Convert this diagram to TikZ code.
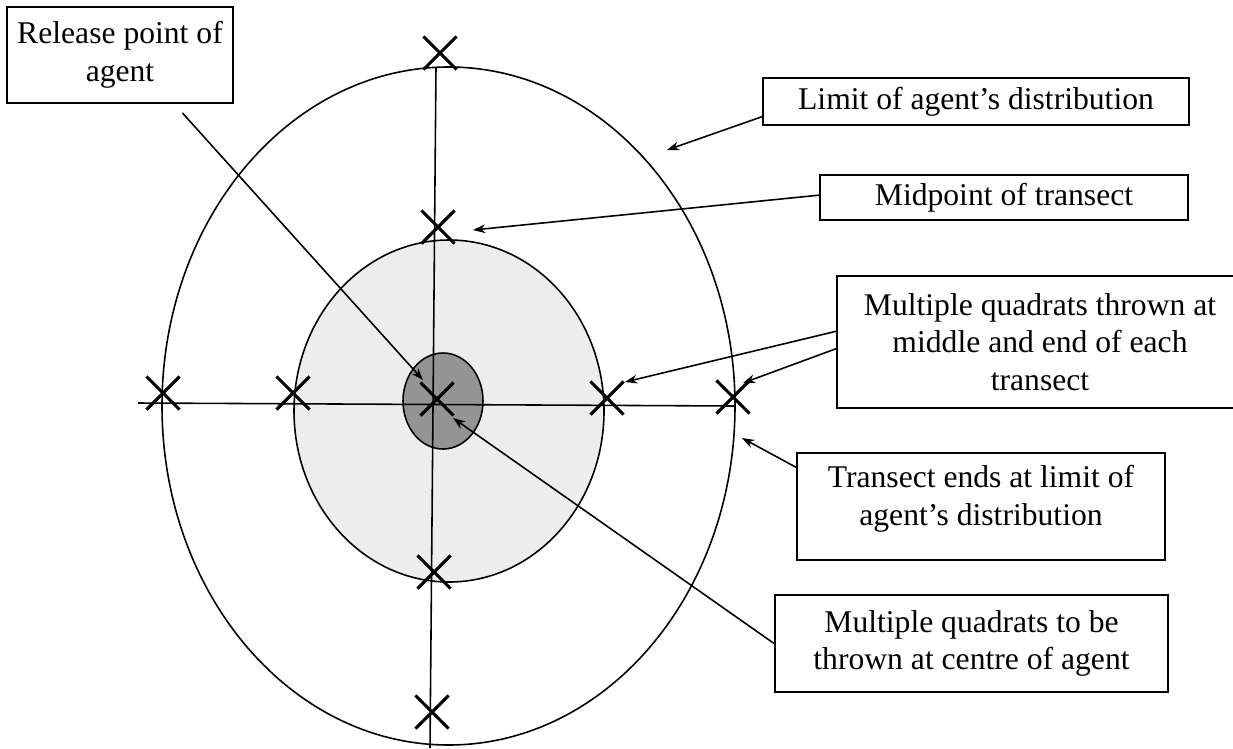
\documentclass[tikz,border=0pt]{standalone}
\usepackage{fontspec}
\setmainfont{Liberation Serif}
\usepackage{tikz}
\usetikzlibrary{arrows.meta,calc,shapes.misc}

\tikzset{
  lbl/.style={draw,line width=1.1pt,align=center,inner sep=0pt,
    font=\fontsize{18}{21.5}\selectfont},
  qx/.style={cross out,draw,line width=1.8pt,minimum size=0.6cm,inner sep=0pt},
  ptr/.style={-{Stealth[length=7pt,width=5pt]},line width=0.9pt}
}

\begin{document}
\begin{tikzpicture}[x=0.02cm,y=-0.02cm]
\useasboundingbox (0,0) rectangle (1233,748);

% zones round the release point
\draw[line width=0.9pt] (448.5,406) ellipse [x radius=286.5,y radius=339];
\draw[line width=0.9pt,fill=black!7] (449,411) ellipse [x radius=155,y radius=171];
\draw[line width=0.9pt,fill=black!42] (443,401) ellipse [x radius=40,y radius=48];

% transects
\draw[line width=0.9pt] (138,403) -- (735,406);
\draw[line width=0.9pt] (436,67) -- (430,748);

% quadrat marks
\foreach \p/\n in {(440,53)/xT,(438,227)/xU,(163,393)/xL,(293,393)/xLM,(437,399)/xC,
                   (607,398)/xRM,(733,397)/xR,(434,572)/xD,(432,712)/xB}
  \node[qx] (\n) at \p {};

% labels
\node[lbl,minimum width=4.52cm,minimum height=1.92cm] (rel) at (120,55)
  {Release point of\\agent};
\node[lbl,minimum width=8.52cm,minimum height=0.94cm] (lim) at (976,101.5)
  {Limit of agent’s distribution};
\node[lbl,minimum width=7.36cm,minimum height=0.90cm] (mid) at (1004,197.5)
  {Midpoint of transect};
\node[lbl,minimum width=8.12cm,minimum height=2.64cm] (mult) at (1040,342)
  {Multiple quadrats thrown at\\middle and end of each\\transect};
\node[lbl,minimum width=7.36cm,minimum height=2.14cm,text depth=13pt] (trans) at (981,506.5)
  {Transect ends at limit of\\agent’s distribution};
\node[lbl,minimum width=7.86cm,minimum height=1.94cm] (cen) at (971.5,643.5)
  {Multiple quadrats to be\\thrown at centre of agent};

% arrow tips
\coordinate (tRel) at (423,380);
\coordinate (tLim) at (667,150);
\coordinate (tMid) at (473,230);
\coordinate (tMult1) at (625,382);
\coordinate (tMult2) at (743,383);
\coordinate (tTrans) at (742,438);
\coordinate (tCen) at (453,418);

\draw[ptr] ($(rel.south west)!.774!(rel.south east)+(0,9)$) -- (tRel);
\draw[ptr] ($(lim.north west)!.81!(lim.south west)$) -- (tLim);
\draw[ptr] ($(mid.north west)!.45!(mid.south west)$) -- (tMid);
\draw[ptr] ($(mult.north west)!.42!(mult.south west)$) -- (tMult1);
\draw[ptr] ($(mult.north west)!.55!(mult.south west)$) -- (tMult2);
\draw[ptr] ($(trans.north west)!.14!(trans.south west)$) -- (tTrans);
\draw[ptr] (cen.west) -- (tCen);
\end{tikzpicture}
\end{document}
